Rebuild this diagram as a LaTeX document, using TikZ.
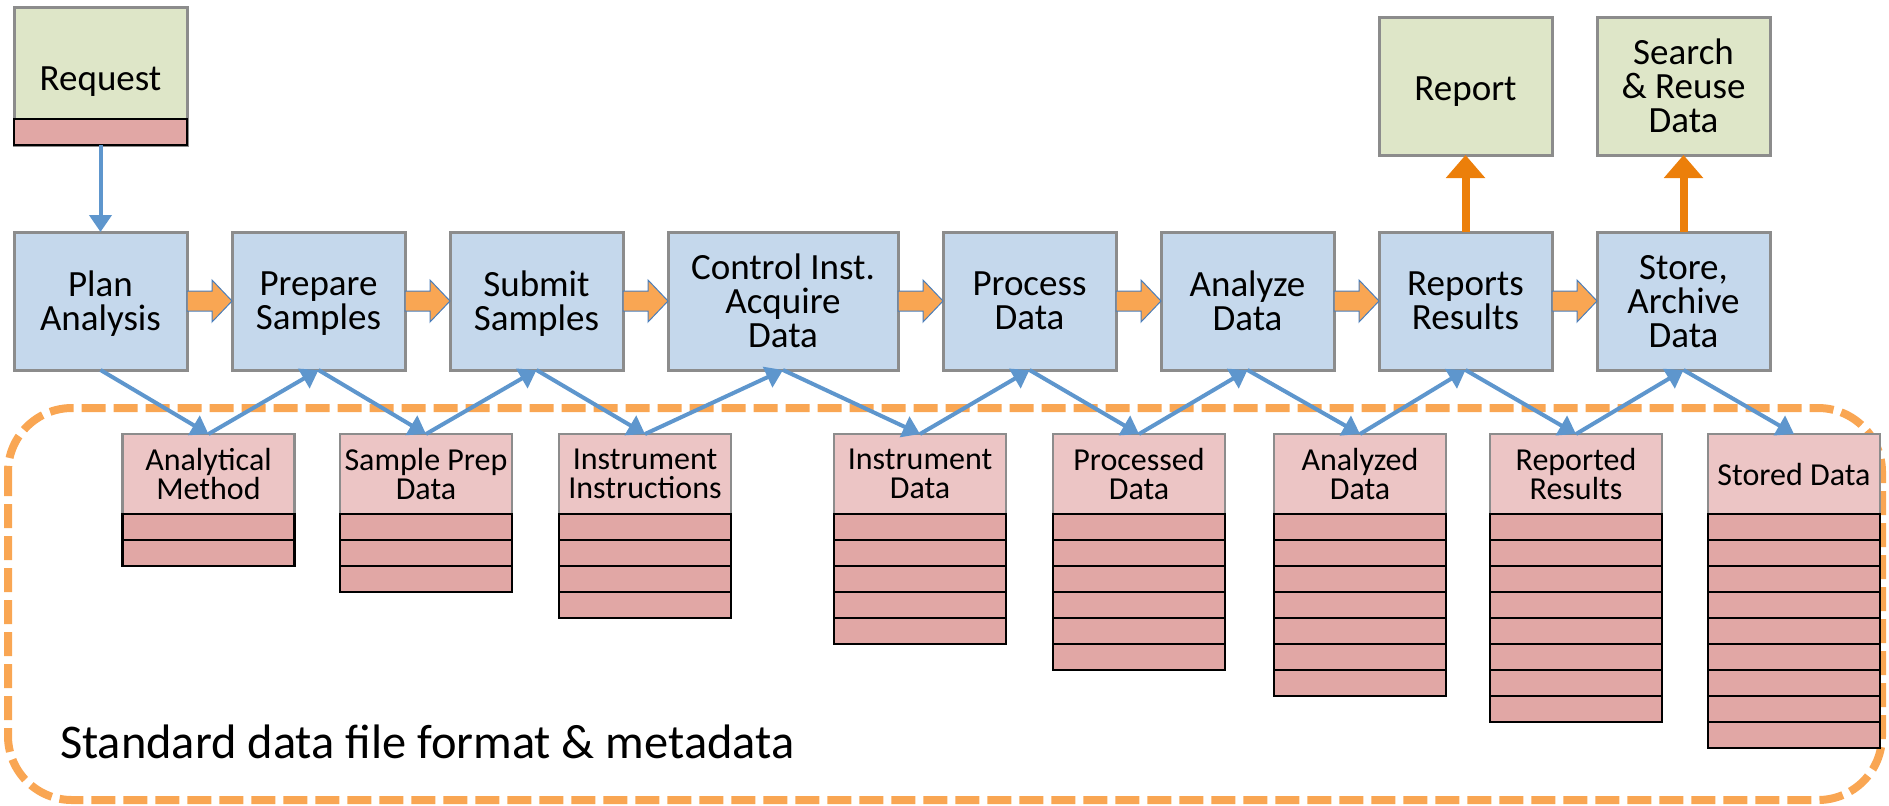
\documentclass[tikz,border=0pt]{standalone}
\usepackage{fontspec}
\setmainfont{Carlito}
\usetikzlibrary{arrows.meta,positioning}
\definecolor{procfill}{HTML}{C5D8EC}
\definecolor{goalfill}{HTML}{DEE6C8}
\definecolor{headfill}{HTML}{ECC5C5}
\definecolor{rowfill}{HTML}{E1A7A5}
\definecolor{edgegrey}{HTML}{8C8C8C}
\definecolor{linkblue}{HTML}{5E96CD}
\definecolor{flowfill}{HTML}{F9A653}
\definecolor{flowedge}{HTML}{4A7EBB}
\definecolor{outorange}{HTML}{EC7F0A}

\begin{document}
\begin{tikzpicture}[x=0.5pt,y=-0.5pt,
  proc/.style={draw=edgegrey,line width=1.5pt,fill=procfill,minimum width=86.5pt,
    minimum height=69pt,inner sep=0pt,outer sep=0pt,align=center,text depth=0pt,
    font=\fontsize{18.5pt}{17pt}\selectfont},
  goal/.style={proc,fill=goalfill},
  oneline/.style={text height=14.5pt,text depth=0pt},
  datahead/.style={draw=edgegrey,line width=1.2pt,fill=headfill,minimum width=86pt,
    minimum height=40pt,inner sep=0pt,outer sep=0pt,align=center,
    font=\fontsize{16pt}{14.5pt}\selectfont},
  datarow/.style={draw=black,line width=1.2pt,fill=rowfill,minimum width=86pt,
    minimum height=13pt,inner sep=0pt,outer sep=0pt},
  link/.style={draw=linkblue,line width=2pt,-{Triangle[length=8.5pt,width=11pt]}},
  flow/.style={fill=flowfill,draw=flowedge,line width=0.5pt},
  outflow/.style={draw=outorange,line width=4pt,-{Triangle[length=11.5pt,width=19pt]}},
  metaframe/.style={draw=flowfill,line width=4pt,dash pattern=on 12pt off 4pt,
    rounded corners=32pt}]
\useasboundingbox (0,0) rectangle (1889,805);

% standard format region
\draw[metaframe] (8,408) rectangle (1882,800);
\node[anchor=base west,font=\fontsize{24.2pt}{28pt}\selectfont] (meta) at (53,758)
  {Standard data file format \& metadata};

% workflow steps
\node[proc] (plan) at (100.5,301) {Plan\\Analysis};
\node[proc,right=22.5pt of plan] (prep) {Prepare\\Samples};
\node[proc,right=22.5pt of prep] (subm) {Submit\\Samples};
\node[proc,minimum width=115pt,right=22.5pt of subm] (acq) {Control Inst.\\Acquire\\Data};
\node[proc,right=22.5pt of acq] (procd) {Process\\Data};
\node[proc,right=22.5pt of procd] (anal) {Analyze\\Data};
\node[proc,right=22.5pt of anal] (rep) {Reports\\Results};
\node[proc,right=22.5pt of rep] (store) {Store,\\Archive\\Data};

% inputs and outputs
\node[goal,oneline,above=43.5pt of plan] (req) {Request};
\node[datarow,minimum width=86.5pt,anchor=south] (reqbar) at (req.south) {};
\node[goal,oneline,above=38.5pt of rep] (report) {Report};
\node[goal,above=38.5pt of store] (reuse) {Search\\\& Reuse\\Data};

% data files, one row per record
\foreach \nm/\cx/\rows/\txt in {
  amethod/208.5/2/Analytical\\Method,
  sprep/426/3/Sample Prep\\Data,
  instr/645/4/Instrument\\Instructions,
  idata/920/5/Instrument\\Data,
  pdata/1139/6/Processed\\Data,
  adata/1360/7/Analyzed\\Data,
  rres/1576/8/Reported\\Results,
  sdata/1794/9/Stored Data}
{
  \node[datahead] (\nm) at (\cx,474) {\txt};
  \foreach \r in {1,...,\rows}
    \node[datarow] (\nm-\r) at (\cx,501+26*\r) {};
}

% block arrows along the chain
\foreach \a/\b in {plan/prep,prep/subm,subm/acq,acq/procd,procd/anal,anal/rep,rep/store}
  \draw[flow] ([yshift=5pt]\a.east) -- ++(12.5pt,0) -- ++(0,5.5pt) -- (\b.west)
    -- ++(-10pt,-10.5pt) -- ++(0,5.5pt) -- ++(-12.5pt,0) -- cycle;

% data links
\draw[link] (reqbar.south) -- (plan.north);
\foreach \p/\d in {plan/amethod,prep/sprep,subm/instr,acq/idata,procd/pdata,
    anal/adata,rep/rres,store/sdata}
  \draw[link] (\p.south) -- (\d.north);
\foreach \d/\p in {amethod/prep,sprep/subm,instr/acq,idata/procd,pdata/anal,
    adata/rep,rres/store}
  \draw[link] (\d.north) -- (\p.south);

\draw[outflow] (rep.north) -- (report.south);
\draw[outflow] (store.north) -- (reuse.south);
\end{tikzpicture}
\end{document}
